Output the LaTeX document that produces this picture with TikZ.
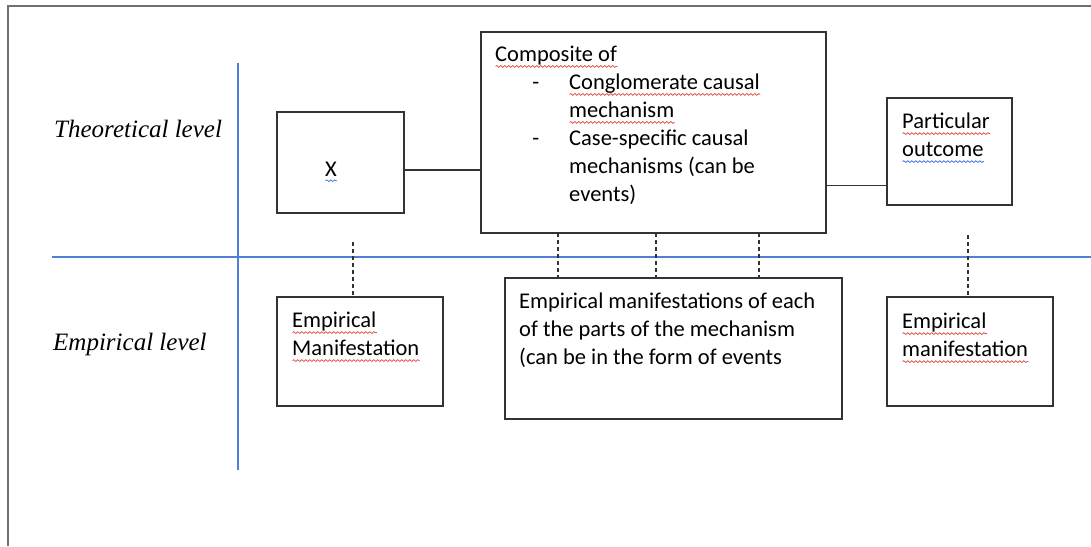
\documentclass[tikz,border=0pt]{standalone}
\usepackage{fontspec}
\setmainfont{Carlito}
\newfontfamily\levelfont{Liberation Serif}
\usepackage{xcolor}
\usepackage{tikz}
\usetikzlibrary{positioning, decorations.pathmorphing}
\definecolor{axisblue}{HTML}{4F7FD6}
\definecolor{framegray}{HTML}{707070}
\definecolor{boxline}{HTML}{333333}
\definecolor{spellred}{HTML}{E04A40}
\definecolor{spellblue}{HTML}{3A6FE0}

% spell-check squiggles under words
\newsavebox{\wavebox}
\newcommand{\squig}[2]{\sbox{\wavebox}{#2}%
  \rlap{\raisebox{-6pt}{\tikz\draw[#1, line width=0.7pt, decorate,
    decoration={snake, amplitude=0.9pt, segment length=4pt}] (0,0) -- (\wd\wavebox,0);}}%
  \usebox{\wavebox}}
\newcommand{\redwave}[1]{\squig{spellred}{#1}}
\newcommand{\bluewave}[1]{\squig{spellblue}{#1}}

\begin{document}
\begin{tikzpicture}[x=1pt, y=-1pt,
  box/.style={draw=boxline, line width=1.4pt, anchor=north west, inner sep=0pt, outer sep=0pt},
  boxtext/.style={anchor=north west, inner sep=0pt, align=left,
    font=\fontsize{22.5}{28}\selectfont, execute at begin node=\strut},
  level/.style={anchor=base west, inner sep=0pt, font=\levelfont\itshape\fontsize{25}{28}\selectfont},
  link/.style={draw=boxline, line width=1.3pt},
  tick/.style={draw=boxline, line width=1.2pt, dash pattern=on 4pt off 3pt}]
\useasboundingbox (0,0) rectangle (1091,546);
\fill[white] (0,0) rectangle (1091,546);
\draw[framegray, line width=2pt] (1091,6) -- (8,6) -- (8,546);

% axes
\draw[axisblue, line width=1.3pt] (238,63) -- (238,470);
\draw[axisblue, line width=1.3pt] (52,257) -- (1091,257);
\node[level] (theo) at (54,137) {Theoretical level};
\node[level] (emp) at (53,350) {Empirical level};

% theoretical level
\node[box, minimum width=127pt, minimum height=101pt] (xbox) at (277,112) {};
\node[boxtext, anchor=base] (xtxt) at (331,176) {\bluewave{X}};
\node[box, minimum width=345pt, minimum height=201pt] (mech) at (481,32) {};
\node[boxtext] (mechtxt) at ([shift={(14,14)}]mech.north west)
  {\redwave{Composite of}\\
   \hspace*{74pt}\llap{-\hspace{30pt}}\redwave{Conglomerate causal}\\
   \hspace*{74pt}\redwave{mechanism}\\
   \hspace*{74pt}\llap{-\hspace{30pt}}Case-specific causal\\
   \hspace*{74pt}mechanisms (can be\\
   \hspace*{74pt}events)};
\node[box, minimum width=125pt, minimum height=107pt] (outcome) at (887,98) {};
\node[boxtext] (outtxt) at ([shift={(15,15)}]outcome.north west)
  {\redwave{Particular}\\\bluewave{outcome}};

% empirical level
\node[box, minimum width=166pt, minimum height=109pt] (empx) at (277,297) {};
\node[boxtext] (empxtxt) at ([shift={(15,15)}]empx.north west)
  {\redwave{Empirical}\\\redwave{Manifestation}};
\node[box, minimum width=337pt, minimum height=141pt] (empmech) at (505,278) {};
\node[boxtext] (empmechtxt) at ([shift={(14,15)}]empmech.north west)
  {Empirical manifestations of each\\of the parts of the mechanism\\(can be in the form of events};
\node[box, minimum width=166pt, minimum height=109pt] (empout) at (887,297) {};
\node[boxtext] (empouttxt) at ([shift={(15,16)}]empout.north west)
  {\redwave{Empirical}\\\redwave{manifestation}};

% connectors
\draw[link] ([yshift=-7.5pt]xbox.east) -- ([yshift=-7.5pt]xbox.east -| mech.west);
\draw[link] ([yshift=-34pt]outcome.west) -- ([yshift=-34pt]outcome.west -| mech.east);
\coordinate (xtick) at (353,242);
\coordinate (otick) at (968,235);
\draw[tick] (xtick) -- (xtick |- empx.north);
\draw[tick] (otick) -- (otick |- empout.north);
\foreach \xx in {558,656,759}
  \draw[tick] (mech.south -| \xx,0) -- (empmech.north -| \xx,0);
\end{tikzpicture}
\end{document}
